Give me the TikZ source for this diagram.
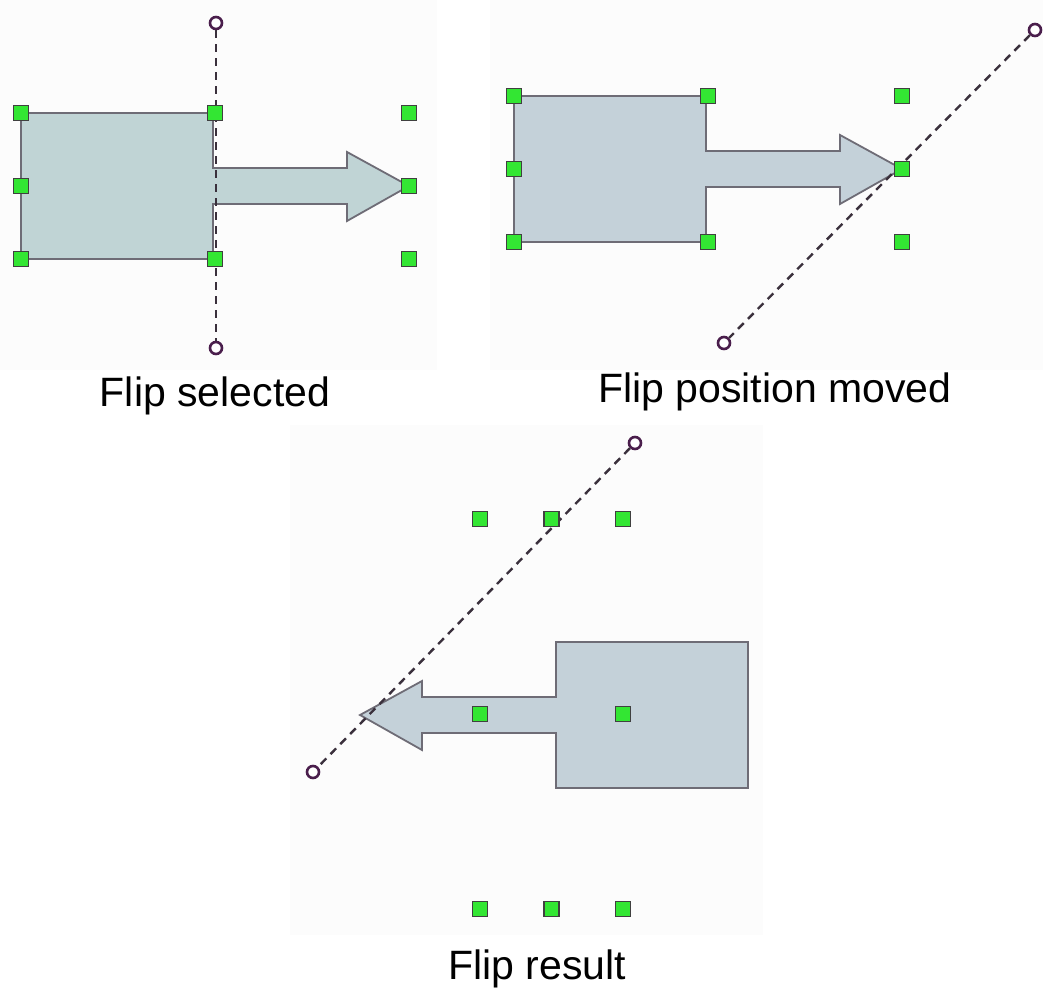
\documentclass[tikz,border=0pt]{standalone}
\usepackage{fontspec}
\setmainfont{Liberation Sans}
\usepackage{tikz}
\definecolor{bodya}{HTML}{C0D4D5}
\definecolor{bodyb}{HTML}{C4D1D9}
\definecolor{edgec}{HTML}{6E6C76}
\definecolor{handc}{HTML}{33E633}
\definecolor{pivc}{HTML}{4A1E4C}
\definecolor{axc}{HTML}{3A303C}
\definecolor{panelbg}{HTML}{FCFCFC}
\tikzset{
  body/.style={draw=edgec,line width=0.9pt,line join=miter},
  handle/.style={draw=black!75,fill=handc,line width=0.9pt,minimum size=7.5pt,inner sep=0pt},
  pivot/.style={circle,draw=pivc,fill=white,line width=1.3pt,minimum size=6pt,inner sep=0pt},
  axis/.style={axc,line width=1.2pt,dash pattern=on 4pt off 3pt},
  lbl/.style={font=\fontsize{20.5}{24}\selectfont,anchor=base,inner sep=0pt}
}

\begin{document}
\begin{tikzpicture}[x=0.5pt,y=-0.5pt]
\useasboundingbox (0,0) rectangle (1043,994);
% faint panel backgrounds
\fill[panelbg] (0,0) rectangle (437,370);
\fill[panelbg] (490,0) rectangle (1043,370);
\fill[panelbg] (290,425) rectangle (763,935);
% box with arrow, before, moved, flipped
\foreach \sx/\sy/\xs/\col in {21/113/1/bodya,514/96/1/bodyb,748/642/-1/bodyb}{
  \begin{scope}[shift={(\sx,\sy)},xscale=\xs]
  \draw[body,fill=\col] (0,0) -- (192,0) -- (192,55) -- (326,55) -- (326,39) -- (388,73)
    -- (326,108) -- (326,91) -- (192,91) -- (192,146) -- (0,146) -- cycle;
  \end{scope}
}
% flip axes
\node[pivot] (pa1) at (216,23) {};
\node[pivot] (pa2) at (216,348) {};
\node[pivot] (pb1) at (1035,30) {};
\node[pivot] (pb2) at (724,343) {};
\node[pivot] (pc1) at (635,443) {};
\node[pivot] (pc2) at (313,772) {};
\draw[axis] (pa1) -- (pa2);
\draw[axis] (pb1) -- (pb2);
\draw[axis] (pc1) -- (pc2);
% selection handles
\foreach \p/\ox/\oy/\dx/\dy in {a/21/113/194/73,b/514/96/194/73,c/480/519/71.5/195}{
  \foreach \i/\j in {0/0,1/0,2/0,0/1,2/1,0/2,1/2,2/2}
    \node[handle] (h\p\i\j) at (\ox+\i*\dx,\oy+\j*\dy) {};
}
\node[lbl] (la) at (215,407) {Flip selected};
\node[lbl] (lb) at (775,402) {Flip position moved};
\node[lbl] (lc) at (537,979) {Flip result};
\end{tikzpicture}
\end{document}
